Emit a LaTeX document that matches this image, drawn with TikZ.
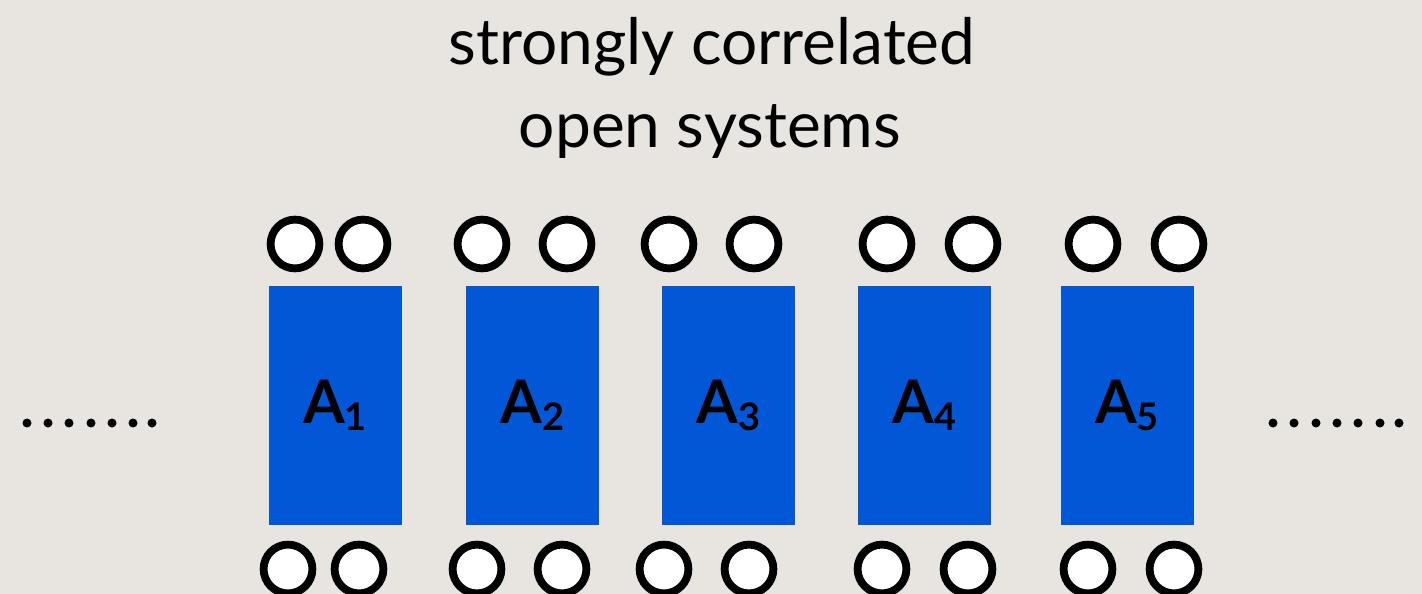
\documentclass[tikz,border=0pt]{standalone}
\usepackage{fontspec}
\setmainfont{Lato}
\newfontfamily\labelfont{Lato}[BoldFont={Lato Bold}]
\definecolor{paper}{RGB}{232,229,224}
\definecolor{siteblue}{RGB}{2,87,214}
\tikzset{
  site/.style={rectangle, fill=siteblue, inner sep=0pt,
    minimum width=133pt, minimum height=239pt,
    font=\labelfont\bfseries\fontsize{60}{60}\selectfont},
  port/.style={circle, draw=black, fill=white, line width=7.8pt,
    inner sep=0pt, minimum size=48.8pt},
  dot/.style={circle, fill=black, inner sep=0pt, minimum size=9pt},
  title/.style={anchor=base, inner sep=0pt, font=\fontsize{64}{64}\selectfont}
}
\newcommand{\sitelabel}[1]{A\raisebox{-7pt}{\fontsize{38}{38}\selectfont #1}}
\begin{document}
\begin{tikzpicture}[x=1pt,y=-1pt]
  % canvas
  \fill[paper] (0,0) rectangle (1422,594);
  \useasboundingbox (0,0) rectangle (1422,594);

  % heading
  \node[title] (t1) at (712,65) {strongly correlated};
  \node[title] (t2) at (710,147) {open systems};

  % the five sites
  \node[site] (s1) at (335,405.5) {\sitelabel{1}};
  \node[site] (s2) at (532.5,405.5) {\sitelabel{2}};
  \node[site] (s3) at (728.5,405.5) {\sitelabel{3}};
  \node[site] (s4) at (924.5,405.5) {\sitelabel{4}};
  \node[site] (s5) at (1127,405.5) {\sitelabel{5}};

  % ports above the sites
  \foreach \x [count=\i] in {295,363,482,567,669,754,887,973,1093,1179}
    \node[port] (u\i) at (\x,244) {};
  % ports below the sites
  \foreach \x [count=\i] in {288,359,477,562,664,749,882,968,1088,1174}
    \node[port] (d\i) at (\x,569) {};

  % chain continues on both sides
  \foreach \x [count=\i] in {27,48,69,91,112,133,152}
    \node[dot] (l\i) at (\x,423) {};
  \foreach \x [count=\i] in {1273,1294,1316,1337,1358,1380,1399}
    \node[dot] (r\i) at (\x,423) {};
\end{tikzpicture}
\end{document}
